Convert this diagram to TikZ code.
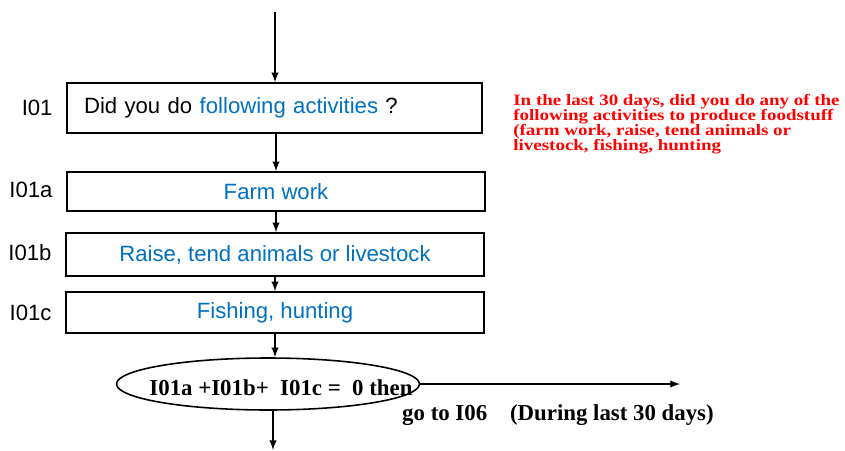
\documentclass[tikz,border=0pt]{standalone}
\usepackage{fontspec}
\setmainfont{Liberation Sans}
\newfontfamily\notefont{Liberation Serif}
\newfontfamily\widenotefont[FakeStretch=1.2]{Liberation Serif}
\usetikzlibrary{shapes,arrows,positioning}
\definecolor{qblue}{RGB}{0,112,192}
\tikzset{
    qbox/.style={draw, line width=0.9pt, minimum width=8.36cm, inner sep=0pt, font=\fontsize{12.6}{15}\selectfont},
    qlabel/.style={font=\fontsize{12.6}{15}\selectfont},
    cond text/.style={font=\notefont\bfseries\fontsize{13}{15}\selectfont},
    flow/.style={-latex, line width=0.9pt},
}

\begin{document}
\begin{tikzpicture}[x=0.02cm, y=-0.02cm]
    \useasboundingbox (0,0) rectangle (845,450);

    % Define question boxes
    \node[qbox, minimum width=8.3cm, minimum height=1cm, text width=7.62cm, align=left, inner xsep=0.34cm] (q01) at (274.5,108) {Did you do \textcolor{qblue}{following activities} ?};
    \node[qbox, minimum height=0.78cm, text=qblue] (q01a) at (276,191.5) {Farm work};
    \node[qbox, minimum height=0.86cm, text=qblue] (q01b) at (275,254.5) {Raise, tend animals or livestock};
    \node[qbox, minimum height=0.82cm, text=qblue] (q01c) at (275,312.5) {Fishing, hunting};

    % Question codes
    \node[qlabel, left=0.15cm of q01] (l01) {I01};
    \node[qlabel, left=0.15cm of q01a, yshift=1pt] (l01a) {I01a};
    \node[qlabel, left=0.15cm of q01b, yshift=1pt] (l01b) {I01b};
    \node[qlabel, left=0.15cm of q01c] (l01c) {I01c};

    % Skip condition
    \node[draw, ellipse, line width=0.9pt, minimum width=6.06cm, minimum height=1.04cm] (cond) at (268,384) {};
    \node[cond text] (condtext) at (281,388) {I01a +I01b+\ \ I01c =\ \ 0 then};
    \node[cond text, anchor=west] (gototext) at (396,415) {go to I06\quad(During last 30 days)};

    % Note
    \node[anchor=north west, text=red, align=left, inner sep=0pt, font=\widenotefont\bfseries\fontsize{9}{8.6}\selectfont] (note) at (513,94) {In the last 30 days, did you do any of the\\following activities to produce foodstuff\\(farm work, raise, tend animals or\\livestock, fishing, hunting};

    % Free ends
    \coordinate (start) at (275,12);
    \coordinate (exit) at (680,384);
    \coordinate (finish) at (273,450);

    % Arrows
    \draw[flow] (start) -- (start |- q01.north);
    \draw[flow] (q01.south -| q01a.north) -- (q01a.north);
    \draw[flow] (q01a.south) -- (q01a.south |- q01b.north);
    \draw[flow] (q01b.south) -- (q01b.south |- q01c.north);
    \draw[flow] (q01c.south) -- (q01c.south |- cond.north);
    \draw[flow] (cond.east) -- (exit);
    \draw[flow] (finish |- cond.south) -- (finish);
\end{tikzpicture}
\end{document}
